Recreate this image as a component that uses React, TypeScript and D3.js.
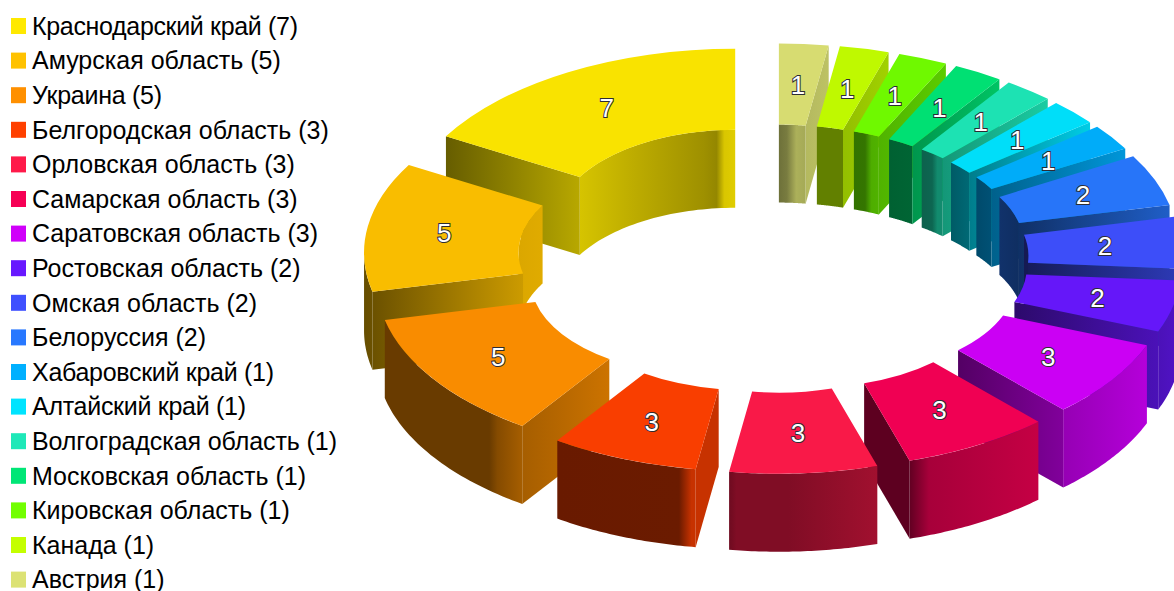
import React from "react";
import * as d3 from "d3";

const categories = [
  "Краснодарский край", "Амурская область", "Украина", "Белгородская область",
  "Орловская область", "Самарская область", "Саратовская область", "Ростовская область",
  "Омская область", "Белоруссия", "Хабаровский край", "Алтайский край",
  "Волгоградская область", "Московская область", "Кировская область", "Канада", "Австрия",
];
const counts = [7, 5, 5, 3, 3, 3, 3, 2, 2, 2, 1, 1, 1, 1, 1, 1, 1];
const colors = [
  "#ffe900", "#ffc200", "#ff9000", "#ff4000", "#ff1a4a", "#f60055", "#d000fa", "#6818ff",
  "#3f50ff", "#2878ff", "#00b0ff", "#00e4ff", "#1ee8b8", "#00e676", "#72ff00", "#c4ff00", "#dce274",
];

// Legend rows whose text is set to a fixed run length; the others use natural width.
const legendRuns: Record<number, number> = { 0: 266, 2: 130, 10: 242, 11: 214, 12: 305 };

type Stops = [number, number][];

// Brightness of each wall, left to right across its horizontal extent.
const innerShades: Stops[] = [
  [[0, 0.84], [0.35, 0.74], [0.8, 0.62], [0.88, 0.58], [0.93, 0.85], [1, 0.88]],
  [[0, 0.86], [1, 0.88]], [[0, 1]], [[0, 1]], [[0, 1]], [[0, 1]], [[0, 1]], [[0, 0.4]],
  [[0, 0.33], [1, 0.33]],
  [[0, 0.42], [1, 0.38]],
  [[0, 0.42], [1, 0.46]],
  [[0, 0.4], [1, 0.46]],
  [[0, 0.42], [0.5, 0.44], [0.75, 0.6], [1, 0.6]],
  [[0, 0.42], [1, 0.44]],
  [[0, 0.45], [0.45, 0.46], [0.7, 0.68], [1, 0.7]],
  [[0, 0.5], [1, 0.5]],
  [[0, 0.5], [0.3, 0.55], [0.65, 0.78], [1, 0.75]],
];
const outerShades: Stops[] = [
  [[0, 0.4]], [[0, 0.4], [1, 0.42]],
  [[0, 0.41], [0.76, 0.41], [0.82, 0.52], [1, 0.65]],
  [[0, 0.41], [0.88, 0.42], [0.97, 0.78], [1, 0.78]],
  [[0, 0.43], [0.05, 0.5], [0.4, 0.5], [1, 0.63]],
  [[0, 0.4], [0.15, 0.68], [1, 0.8]],
  [[0, 0.72], [1, 0.87]],
  [[0, 0.72], [1, 0.78]],
  [[0, 0.7]], [[0, 0.7]], [[0, 0.7]], [[0, 0.7]], [[0, 0.7]], [[0, 0.7]], [[0, 0.7]], [[0, 0.7]], [[0, 0.7]],
];
const edgeShades: Stops[] = [
  [[0, 0.4], [1, 0.72]],
  [[0, 0.42], [1, 0.8]],
  [[0, 0.65], [1, 0.8]],
  [[0, 0.78], [1, 0.78]],
  [[0, 0.5]],
  [[0, 0.38], [1, 0.38]],
  [[0, 0.4], [1, 0.62]],
  [[0, 0.42], [1, 0.72]],
  [[0, 0.35], [1, 0.72]],
  [[0, 0.4], [1, 0.78]],
  [[0, 0.55], [1, 0.85]],
  [[0, 0.55], [1, 0.9]],
  [[0, 0.65], [1, 0.88]],
  [[0, 0.65], [1, 0.85]],
  [[0, 0.7], [1, 0.8]],
  [[0, 0.75], [1, 0.82]],
  [[0, 0.82], [1, 0.86]],
];

const WIDTH = 1174;
const HEIGHT = 591;
const CX = 773.2;
const CY = 258.6;
const TILT = 0.525;
const R_OUTER = 334;
const R_INNER = 179.5;
const EXPLODE = 76;
const DEPTH = 78;
const TOP_SHADE = 0.975;

const scaleColor = (c: string, k: number) => {
  const { r, g, b } = d3.rgb(c);
  return d3.rgb(r * k, g * k, b * k).formatHex();
};

type Wall = { id: string; d: string; x0: number; x1: number; stops: Stops };

// Path of a vertical wall that hangs from the rim sampled at the given points.
const wallArea = d3
  .area<[number, number]>()
  .x((p) => p[0])
  .y0((p) => p[1])
  .y1((p) => p[1] + DEPTH);

const slices = d3
  .pie<number>()
  .sort(null)
  .value((d) => d)
  .startAngle(0)
  .endAngle(-2 * Math.PI)(counts);

const topArc = d3.arc<{ startAngle: number; endAngle: number }>()
  .innerRadius(R_INNER)
  .outerRadius(R_OUTER);

const model = slices.map((s, i) => {
  const mid = (s.startAngle + s.endAngle) / 2;
  const ox = CX + EXPLODE * Math.sin(mid);
  const oy = CY - TILT * EXPLODE * Math.cos(mid);
  const pt = (r: number, a: number): [number, number] => [
    ox + r * Math.sin(a),
    oy - TILT * r * Math.cos(a),
  ];
  const walls: Wall[] = [];
  const addCurved = (kind: string, r: number, a0: number, a1: number, stops: Stops) => {
    if (a1 - a0 < 1e-4) return;
    const pts = d3.range(0, 41).map((k) => pt(r, a0 + ((a1 - a0) * k) / 40));
    pts.sort((p, q) => p[0] - q[0]);
    walls.push({ id: `${kind}${i}`, d: wallArea(pts) as string, x0: pts[0][0], x1: pts[40][0], stops });
  };
  // Angles run negative: the start lies nearer the top, the end further counter-clockwise.
  const hi = s.startAngle;
  const lo = s.endAngle;
  const half = Math.PI / 2;
  // Inner wall faces the viewer on the far half of the ring.
  addCurved("in", R_INNER, Math.max(lo, -half), Math.min(hi, 0), innerShades[i]);
  addCurved("in", R_INNER, lo, Math.min(hi, -1.5 * Math.PI), innerShades[i]);
  // Outer wall faces the viewer on the near half.
  addCurved("out", R_OUTER, Math.max(lo, -1.5 * Math.PI), Math.min(hi, -half), outerShades[i]);
  // One radial cut face is visible on each side of the vertical axis.
  const edgeAngle = Math.sin(lo) < -1e-6 ? lo : Math.sin(hi) > 1e-6 ? hi : null;
  if (edgeAngle !== null) {
    const a = pt(R_INNER, edgeAngle);
    const b = pt(R_OUTER, edgeAngle);
    const pts = [a, b].sort((p, q) => p[0] - q[0]);
    walls.push({ id: `edge${i}`, d: wallArea(pts) as string, x0: pts[0][0], x1: pts[1][0], stops: edgeShades[i] });
  }
  return {
    i,
    mid,
    ox,
    oy,
    walls,
    top: topArc({ startAngle: s.startAngle, endAngle: s.endAngle }) as string,
    label: pt((R_INNER + R_OUTER) / 2, mid),
  };
});

// Painter's order: the far pieces first.
const drawOrder = [...model].sort((a, b) => Math.cos(b.mid) - Math.cos(a.mid));

export default function App() {
  return (
    <svg
      width={WIDTH}
      height={HEIGHT}
      viewBox={`0 0 ${WIDTH} ${HEIGHT}`}
      style={{ position: "fixed", left: 0, top: 0, display: "block", background: "#fff" }}
    >
      <defs>
        {model.flatMap((m) =>
          m.walls.map((w) => (
            <linearGradient key={w.id} id={w.id} gradientUnits="userSpaceOnUse" x1={w.x0} x2={w.x1} y1={0} y2={0}>
              {w.stops.map(([o, k], j) => (
                <stop key={j} offset={o} stopColor={scaleColor(colors[m.i], k)} />
              ))}
            </linearGradient>
          ))
        )}
      </defs>
      {drawOrder.map((m) => (
        <g key={m.i}>
          {m.walls.map((w) => (
            <path key={w.id} d={w.d} fill={`url(#${w.id})`} />
          ))}
          <path
            d={m.top}
            transform={`translate(${m.ox},${m.oy}) scale(1,${TILT})`}
            fill={scaleColor(colors[m.i], TOP_SHADE)}
          />
        </g>
      ))}
      {model.map((m) => (
        <text
          key={m.i}
          x={m.label[0]}
          y={m.label[1]}
          dy="0.36em"
          textAnchor="middle"
          fontFamily="'Liberation Sans', sans-serif"
          fontSize={26}
          fill="#fff"
          stroke="#2c2c34"
          strokeWidth={2}
          paintOrder="stroke"
        >
          {counts[m.i]}
        </text>
      ))}
      {categories.map((c, i) => (
        <g key={c} transform={`translate(0,${26 + i * 34.6})`}>
          <rect x={11} y={-8} width={15} height={16} fill={colors[i]} />
          <text
            x={32}
            dy="0.35em"
            fontFamily="'Liberation Sans', sans-serif"
            fontSize={25}
            fill="#000"
            textLength={legendRuns[i]}
            lengthAdjust={legendRuns[i] ? "spacing" : undefined}
          >
            {`${c} (${counts[i]})`}
          </text>
        </g>
      ))}
    </svg>
  );
}
